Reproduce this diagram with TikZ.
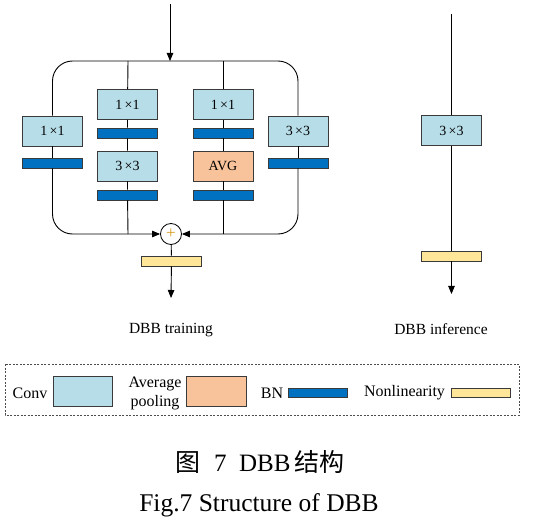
\documentclass[tikz,border=0pt]{standalone}
\usepackage{fontspec}
\setmainfont{Liberation Serif}
\newfontfamily\cjk{Noto Sans CJK SC}
\usetikzlibrary{arrows.meta}
\definecolor{convc}{HTML}{B7DDE8}
\definecolor{bnc}{HTML}{0070C0}
\definecolor{avgc}{HTML}{F8C39B}
\definecolor{nlc}{HTML}{FFE699}
\definecolor{edgec}{HTML}{3A3A3A}
\definecolor{plusc}{HTML}{D99A1E}
\tikzset{
  conv/.style={draw=edgec,line width=0.9pt,fill=convc,minimum width=60pt,minimum height=30pt,inner sep=0pt,font=\fontsize{14}{16}\selectfont},
  avg/.style={conv,fill=avgc},
  bn/.style={draw=edgec,line width=0.8pt,fill=bnc,minimum width=60pt,minimum height=10pt,inner sep=0pt},
  nl/.style={bn,fill=nlc},
  wire/.style={line width=0.9pt,black},
  arr/.style={wire,-{Triangle[length=8pt,width=6.5pt]}},
  lbl/.style={font=\fontsize{15.5}{17}\selectfont,inner sep=0pt},
}
\begin{document}
\begin{tikzpicture}[x=1pt,y=-1pt]
\useasboundingbox (0,0) rectangle (539,524);
% training block
\coordinate (in) at (170,4);
\coordinate (topc) at (170,61);
\coordinate (t2) at (128,61);
\coordinate (t3) at (223,61);
\coordinate (b2) at (128,234);
\coordinate (b3) at (223,234);
\node[conv] (c1) at (52.5,131) {1\,×1};
\node[bn]   (n1) at (52.5,163) {};
\node[conv] (c21) at (127.5,104.5) {1\,×1};
\node[bn]   (n21) at (127.5,133) {};
\node[conv] (c22) at (127.5,166) {3\,×3};
\node[bn]   (n22) at (127.5,195) {};
\node[conv] (c31) at (223,104.5) {1\,×1};
\node[bn]   (n31) at (223,133) {};
\node[avg]  (c32) at (223,166) {AVG};
\node[bn]   (n32) at (223,195) {};
\node[conv] (c4) at (298,131) {3\,×3};
\node[bn]   (n4) at (298,163) {};
\node[circle,draw,line width=0.8pt,minimum size=21pt,inner sep=0pt,text=plusc,font=\fontsize{17}{17}\selectfont] (plus) at (171,234) {+};
\node[nl] (nl1) at (171.5,261) {};
\coordinate (out) at (171,298);

\draw[arr] (in) -- (topc);
\draw[wire,rounded corners=20pt] (topc) -| (c1.north);
\draw[wire,rounded corners=20pt] (topc) -| (c4.north);
\draw[wire] (c1) -- (n1);
\draw[wire] (c4) -- (n4);
\draw[arr,rounded corners=20pt] (n1.south) |- (plus.west);
\draw[arr,rounded corners=20pt] (n4.south) |- (plus.east);
\draw[wire] (t2) -- (c21) -- (n21) -- (c22) -- (n22) -- (b2);
\draw[wire] (t3) -- (c31) -- (n31) -- (c32) -- (n32) -- (b3);
\draw[wire] (plus) -- (nl1);
\draw[arr] (nl1) -- (out);
\node[lbl] (ttrain) at (171,330) {DBB training};

% inference
\coordinate (iin) at (451.5,14);
\node[conv] (ic) at (451.5,130.5) {3\,×3};
\node[nl] (inl) at (451.5,256) {};
\coordinate (iout) at (451.5,294);
\draw[wire] (iin) -- (ic);
\draw[wire] (ic) -- (inl);
\draw[arr] (inl) -- (iout);
\node[lbl] (tinf) at (441,329) {DBB inference};

% legend
\draw[gray!60!black,line width=0.7pt,dash pattern=on 2pt off 1.5pt] (5,364) rectangle (519,415);
\node[lbl,font=\fontsize{16}{18}\selectfont] (lconvt) at (30,393) {Conv};
\node[conv,minimum width=59pt] (lconv) at (82.5,391) {};
\node[lbl,align=center,font=\fontsize{16}{19}\selectfont] (lavgt) at (155,393) {Average\\pooling};
\node[avg,minimum width=60pt] (lavg) at (216,391) {};
\node[lbl,font=\fontsize{16}{18}\selectfont] (lbnt) at (272,393) {BN};
\node[bn,minimum width=59pt,minimum height=9pt] (lbn) at (317.5,392.5) {};
\node[lbl,font=\fontsize{16}{18}\selectfont] (lnlt) at (404.5,393) {Nonlinearity};
\node[nl,minimum width=59pt,minimum height=9pt] (lnl) at (480.5,392.5) {};

% captions
\node[inner sep=0pt,font=\fontsize{25}{28}\selectfont] (cap1) at (260,462) {{\cjk 图}\hspace{0.55em}7\hspace{0.5em}DBB\,{\cjk 结构}};
\node[inner sep=0pt,font=\fontsize{25.5}{28}\selectfont] (cap2) at (259,505) {Fig.7 Structure of DBB};
\end{tikzpicture}
\end{document}
